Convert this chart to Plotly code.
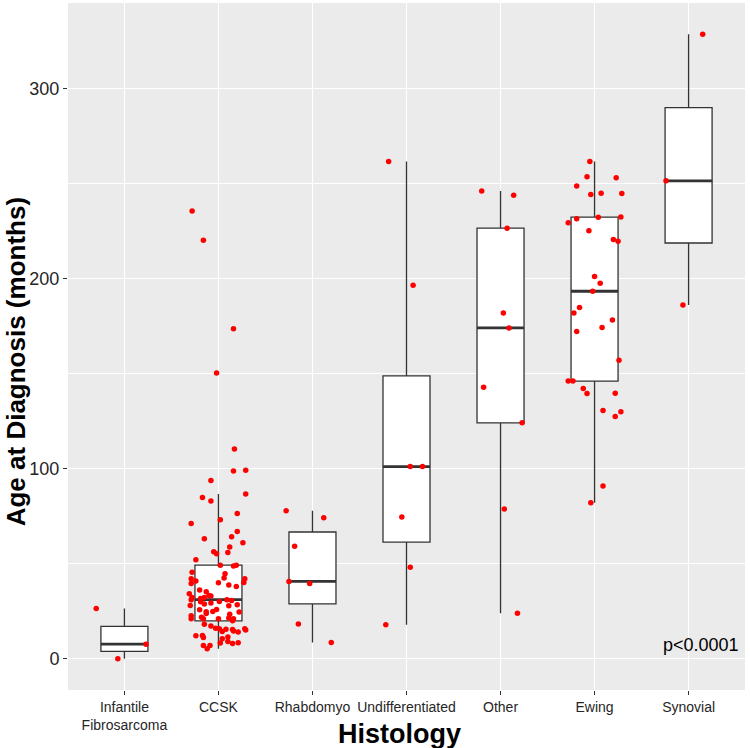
import numpy as np
import plotly.graph_objects as go

# ---------------- data ----------------
categories = ["Infantile<br>Fibrosarcoma", "CCSK", "Rhabdomyo", "Undifferentiated",
              "Other", "Ewing", "Synovial"]

infantile_vals = [26.5, 7.7, 0.0]
infantile_jit = [-0.30, 0.23, -0.07]

ccsk_vals = [235.8, 220.4, 173.8, 150.5,
             110.4, 98.9, 99.3, 93.8, 84.9, 83.0, 86.7, 73.2, 76.5, 71.2,
             67.0, 64.2, 63.2, 61.1, 58.9, 56.3, 55.3, 55.9, 52.1, 49.3,
             48.9, 49.3, 45.6, 44.7, 42.1, 42.5, 42.1, 40.9, 39.6, 40.0,
             40.2, 38.8, 38.1, 36.2, 35.3, 34.2, 33.3, 33.0, 32.3, 31.1,
             31.7, 32.3, 31.1, 30.2, 30.0, 29.3, 28.9, 30.7, 28.1, 27.9,
             28.4, 25.8, 24.9, 25.9, 24.7, 23.9, 23.5, 24.6, 22.6, 21.9,
             21.1, 21.1, 21.1, 21.4, 21.1, 20.0, 18.2, 17.2, 16.1, 15.8,
             14.4, 15.6, 15.4, 14.6, 14.1, 15.8, 15.1, 12.1, 12.3, 11.2,
             10.5, 11.4, 9.1, 8.1, 8.4, 8.3, 7.0, 7.0, 5.3]
ccsk_jit = [-0.28, -0.16, 0.16, -0.02,
            0.17, 0.16, 0.29, -0.08, -0.17, -0.08, 0.29, 0.02, 0.20, -0.29,
            0.20, 0.14, -0.15, 0.26, 0.12, -0.05, -0.02, 0.10, -0.24, 0.02,
            0.16, 0.19, -0.28, 0.07, -0.29, 0.06, 0.28, -0.24, -0.29, 0.00,
            0.27, 0.11, 0.19, -0.20, -0.13, -0.31, -0.10, -0.08, -0.28, -0.29,
            -0.19, -0.15, 0.09, 0.01, -0.19, -0.08, -0.15, 0.14, -0.30, 0.11,
            0.20, -0.20, -0.06, -0.02, -0.13, -0.13, 0.12, 0.22, -0.29, -0.18,
            -0.29, -0.16, 0.00, 0.11, 0.16, 0.15, -0.15, -0.08, -0.03, 0.01,
            0.04, 0.08, 0.15, 0.16, 0.21, 0.28, 0.29, -0.24, -0.17, -0.16,
            0.04, 0.10, 0.10, 0.15, 0.21, 0.02, -0.16, -0.09, -0.12]

rhabdo_vals = [77.9, 74.2, 59.3, 40.7, 39.6, 18.3, 8.6]
rhabdo_jit = [-0.28, 0.12, -0.19, -0.25, -0.03, -0.15, 0.20]

undiff_vals = [261.8, 196.7, 101.2, 101.2, 74.6, 48.2, 17.9]
undiff_jit = [-0.19, 0.07, 0.04, 0.17, -0.05, 0.04, -0.22]

other_vals = [246.3, 244.0, 226.7, 182.1, 174.2, 143.0, 124.2, 78.9, 24.0]
other_jit = [-0.20, 0.14, 0.07, 0.03, 0.09, -0.18, 0.23, 0.04, 0.18]

ewing_vals = [261.8, 253.8, 253.3, 248.9, 244.4, 245.1, 244.9, 231.7, 229.6,
              232.5, 232.6, 225.3, 220.7, 219.8, 201.2, 197.7, 193.5, 184.9,
              182.1, 178.3, 172.3, 174.4, 157.2, 146.2, 146.3, 142.3, 139.6,
              139.8, 130.7, 127.5, 130.0, 90.9, 82.1]
ewing_jit = [-0.05, -0.08, 0.23, -0.19, -0.04, 0.07, 0.29, -0.19, -0.28,
             0.04, 0.28, -0.06, 0.20, 0.25, 0.00, 0.06, -0.02, -0.16,
             -0.22, 0.19, -0.19, 0.08, 0.26, -0.28, -0.23, -0.12, -0.08,
             0.22, 0.09, 0.22, 0.28, 0.09, -0.04]

synovial_vals = [328.8, 251.6, 186.2]
synovial_jit = [0.15, -0.24, -0.06]

y_tickvals = [0, 100, 200, 300]
y_ticktext = ["0", "100", "200", "300"]
p_label = "p<0.0001"

groups_vals = [infantile_vals, ccsk_vals, rhabdo_vals, undiff_vals,
               other_vals, ewing_vals, synovial_vals]
groups_jit = [infantile_jit, ccsk_jit, rhabdo_jit, undiff_jit,
              other_jit, ewing_jit, synovial_jit]

# ---------------- statistics (ggplot-like: type 7 quantiles, 1.5 IQR whiskers) ----------------
pos = list(range(len(categories)))
q1s, meds, q3s, lows, highs = [], [], [], [], []
for vals in groups_vals:
    a = np.array(vals, dtype=float)
    q1, med, q3 = np.percentile(a, [25, 50, 75])
    iqr = q3 - q1
    lo = a[a >= q1 - 1.5 * iqr].min()
    hi = a[a <= q3 + 1.5 * iqr].max()
    q1s.append(q1); meds.append(med); q3s.append(q3); lows.append(lo); highs.append(hi)

BOX_W = 0.5
LINE_C = "#333333"
TICK_C = "#262626"
FONT = "Liberation Sans, Arial, Helvetica, sans-serif"

fig = go.Figure()

fig.add_trace(go.Box(
    x=pos, q1=q1s, median=meds, q3=q3s, lowerfence=lows, upperfence=highs,
    width=BOX_W, whiskerwidth=0, boxpoints=False,
    fillcolor="white", line=dict(color=LINE_C, width=1.3),
    showlegend=False, hoverinfo="skip"))

# thicker median bars (ggplot fatten)
mx, my = [], []
for p, m in zip(pos, meds):
    mx += [p - BOX_W / 2, p + BOX_W / 2, None]
    my += [m, m, None]
fig.add_trace(go.Scatter(x=mx, y=my, mode="lines",
                         line=dict(color=LINE_C, width=2.8),
                         showlegend=False, hoverinfo="skip"))

# jittered points
px, py = [], []
for p, vals, jit in zip(pos, groups_vals, groups_jit):
    px += [p + j for j in jit]
    py += list(vals)
fig.add_trace(go.Scatter(x=px, y=py, mode="markers",
                         marker=dict(color="#FF0000", size=5.5, line=dict(width=0)),
                         showlegend=False, hoverinfo="skip"))

all_vals = np.concatenate([np.array(v, dtype=float) for v in groups_vals])
ymin, ymax = all_vals.min(), all_vals.max()
pad = 0.05 * (ymax - ymin)

fig.update_layout(
    width=750, height=748,
    margin=dict(l=68, r=5, t=3, b=58),
    paper_bgcolor="white", plot_bgcolor="#EBEBEB",
    font=dict(family=FONT, color=TICK_C),
    xaxis=dict(range=[-0.6, len(categories) - 0.4], tickmode="array",
               tickvals=pos, ticktext=categories,
               tickfont=dict(size=14, color=TICK_C, family=FONT),
               showgrid=True, gridcolor="white", gridwidth=1.2,
               zeroline=False, ticks="outside", ticklen=4, tickwidth=1,
               tickcolor="#333333", showline=False),
    yaxis=dict(range=[ymin - pad, ymax + pad], tickmode="array",
               tickvals=y_tickvals, ticktext=y_ticktext,
               tickfont=dict(size=18, color=TICK_C, family=FONT),
               showgrid=True, gridcolor="white", gridwidth=1.2,
               minor=dict(dtick=50, tick0=0, showgrid=True, gridcolor="white",
                          gridwidth=0.6),
               zeroline=False, ticks="outside", ticklen=4, tickwidth=1,
               tickcolor="#333333", showline=False),
    annotations=[
        dict(text="Age at Diagnosis (months)", xref="paper", yref="paper",
             x=-0.0768, y=0.477, xanchor="center", yanchor="middle",
             textangle=-90, showarrow=False, borderpad=0,
             font=dict(size=26, color="black", family=FONT, weight="bold")),
        dict(text="Histology", xref="paper", yref="paper",
             x=0.49, y=-0.0644, xanchor="center", yanchor="middle",
             showarrow=False,
             font=dict(size=27, color="black", family=FONT, weight="bold")),
        dict(text=p_label, xref="x", yref="y", x=6.13, y=7,
             xanchor="center", yanchor="middle", showarrow=False,
             font=dict(size=18, color="black", family=FONT)),
    ],
)

fig.write_html("out.html")
